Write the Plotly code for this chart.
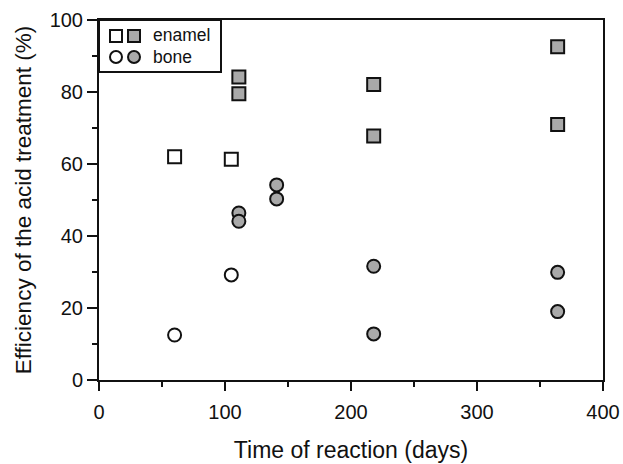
import plotly.graph_objects as go

# Data
enamel_open_x = [60, 105]
enamel_open_y = [62.0, 61.3]
enamel_grey_x = [111, 111, 218, 218, 364, 364]
enamel_grey_y = [84.2, 79.5, 82.1, 67.8, 92.6, 71.0]
bone_open_x = [60, 105]
bone_open_y = [12.5, 29.2]
bone_grey_x = [111, 111, 141, 141, 218, 218, 364, 364]
bone_grey_y = [46.4, 44.1, 54.2, 50.3, 31.6, 12.8, 29.9, 19.0]

x_ticks = [0, 100, 200, 300, 400]
y_ticks = [0, 20, 40, 60, 80, 100]
legend_labels = ["enamel", "bone"]

GREY = "#a9a9a9"
BLK = "#111111"
FONT = "Liberation Sans, Arial, sans-serif"

fig = go.Figure()

def add(x, y, symbol, fill):
    fig.add_trace(go.Scatter(
        x=x, y=y, mode="markers",
        marker=dict(symbol=symbol, size=13, color=fill,
                    line=dict(color=BLK, width=2)),
        showlegend=False, hoverinfo="skip"))

add(enamel_open_x, enamel_open_y, "square", "white")
add(enamel_grey_x, enamel_grey_y, "square", GREY)
add(bone_open_x, bone_open_y, "circle", "white")
add(bone_grey_x, bone_grey_y, "circle", GREY)

W, H = 623, 464
ml, mr, mt, mb = 99, 20, 20, 84
pw = W - ml - mr
ph = H - mt - mb

def px2x(p):
    return (p - ml) / pw

def py2y(p):
    return 1 - (p - mt) / ph

shapes = []
# legend box
shapes.append(dict(type="rect", xref="paper", yref="paper",
                   x0=px2x(99), x1=px2x(221), y0=py2y(72), y1=py2y(20),
                   line=dict(color=BLK, width=2), fillcolor="white", layer="above"))
# legend glyphs
glyphs = [
    ("rect", 116, 36, "white"), ("rect", 134, 36, GREY),
    ("circle", 116, 57, "white"), ("circle", 134, 57, GREY),
]
for kind, gx, gy, fill in glyphs:
    shapes.append(dict(type=kind, xref="paper", yref="paper",
                       xsizemode="pixel", ysizemode="pixel",
                       xanchor=px2x(gx), yanchor=py2y(gy),
                       x0=-6, x1=6, y0=-6, y1=6,
                       fillcolor=fill, line=dict(color=BLK, width=2), layer="above"))

annotations = []
for lab, gy in zip(legend_labels, [35, 57]):
    annotations.append(dict(text=lab, xref="paper", yref="paper",
                            x=px2x(151), y=py2y(gy), xanchor="left", yanchor="middle",
                            showarrow=False, font=dict(size=17.5, color=BLK, family=FONT)))

fig.update_layout(
    width=W, height=H,
    margin=dict(l=ml, r=mr, t=mt, b=mb, autoexpand=False),
    paper_bgcolor="white", plot_bgcolor="white",
    font=dict(family=FONT, color=BLK, size=20),
    shapes=shapes, annotations=annotations,
    xaxis=dict(range=[0, 400], tickvals=x_ticks, ticktext=[str(v) for v in x_ticks],
               ticks="outside", ticklen=9, tickwidth=2, tickcolor=BLK,
               minor=dict(dtick=50, ticks="outside", ticklen=5, tickwidth=2, tickcolor=BLK),
               showline=True, linecolor=BLK, linewidth=2, mirror=True,
               showgrid=False, zeroline=False, automargin=False,
               tickfont=dict(size=20), ticklabelstandoff=4,
               title=dict(text="Time of reaction (days)", font=dict(size=23), standoff=20)),
    yaxis=dict(range=[0, 100], tickvals=y_ticks, ticktext=[str(v) for v in y_ticks],
               ticks="outside", ticklen=10, tickwidth=2, tickcolor=BLK,
               minor=dict(dtick=10, ticks="outside", ticklen=5, tickwidth=2, tickcolor=BLK),
               showline=True, linecolor=BLK, linewidth=2, mirror=True,
               showgrid=False, zeroline=False, automargin=False,
               tickfont=dict(size=20),
               title=dict(text="Efficiency of the acid treatment (%)", font=dict(size=22.5), standoff=12)),
)

fig.write_html("out.html", config={"displayModeBar": False},
               post_script="document.body.style.margin='0';document.body.style.overflow='hidden';")
